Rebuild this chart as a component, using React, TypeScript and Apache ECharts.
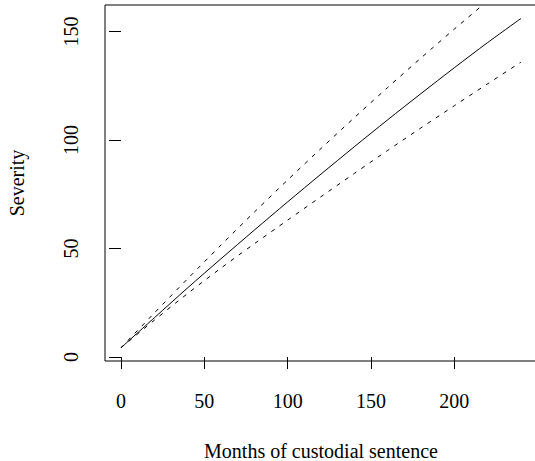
import React, { useEffect, useRef } from "react";
import * as echarts from "echarts";

const months = [0, 20, 40, 60, 80, 100, 120, 140, 160, 180, 200, 220, 240];
const severityFit = [4.3, 18.1, 31.9, 45.3, 58.5, 71.5, 84.3, 96.9, 109.3, 121.4, 133.3, 144.9, 156.0];
const severityUpper = [4.3, 20.3, 36.1, 51.6, 66.8, 81.6, 96.1, 110.3, 124.2, 137.8, 151.1, 164.1, 176.8];
const severityLower = [4.3, 17.0, 29.3, 41.0, 52.2, 63.1, 73.9, 84.6, 95.2, 105.6, 115.8, 125.9, 135.9];
const xTicks = [0, 50, 100, 150, 200];
const yTicks = [0, 50, 100, 150];

const FONT = "Liberation Serif";

export default function App() {
  const ref = useRef<HTMLDivElement>(null);
  useEffect(() => {
    document.body.style.margin = "0";
    if (!ref.current) return;
    const chart = echarts.init(ref.current, undefined, { renderer: "svg" });
    const pairs = (ys: number[]) => months.map((m, i) => [m, ys[i]]);
    const lineSeries = (name: string, ys: number[], dashed: boolean) => ({
      name,
      type: "line",
      data: pairs(ys),
      showSymbol: false,
      symbol: "none",
      smooth: 0.3,
      clip: true,
      lineStyle: { color: "#000", width: 1, type: dashed ? [4, 6] : "solid" },
    });
    chart.setOption({
      animation: false,
      backgroundColor: "#fff",
      textStyle: { fontFamily: FONT },
      grid: {
        left: 105,
        top: 5,
        width: 432,
        height: 356,
        show: true,
        borderColor: "#000",
        borderWidth: 1,
        containLabel: false,
        outerBoundsMode: "none",
      },
      xAxis: {
        type: "value",
        min: -9.6,
        max: 249.6,
        name: "Months of custodial sentence",
        nameLocation: "middle",
        nameGap: 80,
        nameTextStyle: { fontFamily: FONT, fontSize: 20, color: "#000" },
        axisLine: { show: false },
        splitLine: { show: false },
        axisTick: { show: true, length: 12, lineStyle: { color: "#000" }, customValues: xTicks },
        axisLabel: {
          fontFamily: FONT,
          fontSize: 20,
          color: "#000",
          margin: 30,
          customValues: xTicks,
        },
      },
      yAxis: {
        type: "value",
        min: -1.8,
        max: 162.2,
        name: "Severity",
        nameLocation: "middle",
        nameGap: 78,
        nameTextStyle: { fontFamily: FONT, fontSize: 20, color: "#000" },
        axisLine: { show: false },
        splitLine: { show: false },
        axisTick: { show: true, length: 12, lineStyle: { color: "#000" }, customValues: yTicks },
        axisLabel: {
          fontFamily: FONT,
          fontSize: 20,
          color: "#000",
          rotate: 90,
          margin: 24,
          customValues: yTicks,
        },
      },
      series: [
        lineSeries("Fit", severityFit, false),
        lineSeries("Upper", severityUpper, true),
        lineSeries("Lower", severityLower, true),
      ],
    });
    return () => chart.dispose();
  }, []);
  return <div ref={ref} style={{ width: 535, height: 461 }} />;
}
